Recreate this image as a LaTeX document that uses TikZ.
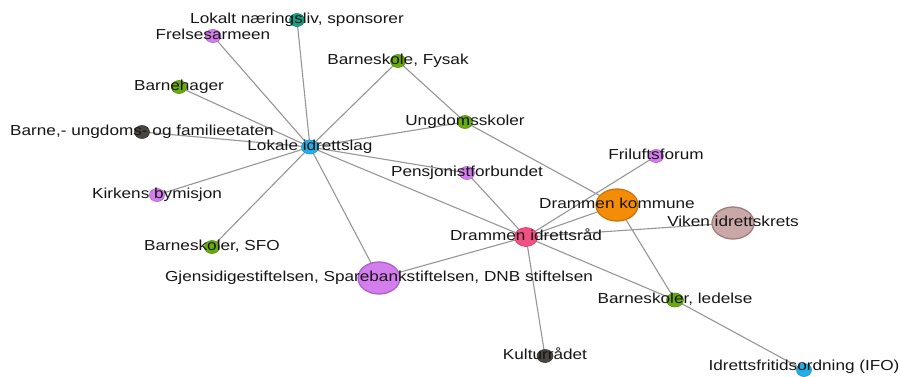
\documentclass[tikz,border=0pt]{standalone}
\usepackage{fontspec}
\usepackage{graphicx}
\setmainfont{Liberation Sans}
\usetikzlibrary{shapes.geometric}
\pgfdeclarelayer{bg}
\pgfsetlayers{bg,main}
\definecolor{cblue}{RGB}{35,175,230}
\definecolor{cblueD}{RGB}{25,150,205}
\definecolor{cteal}{RGB}{25,160,130}
\definecolor{ctealD}{RGB}{15,135,110}
\definecolor{cpurp}{RGB}{212,125,236}
\definecolor{cpurpD}{RGB}{175,95,200}
\definecolor{cgreen}{RGB}{105,170,15}
\definecolor{cgreenD}{RGB}{85,145,10}
\definecolor{cdark}{RGB}{75,70,65}
\definecolor{cdarkD}{RGB}{55,50,45}
\definecolor{corange}{RGB}{245,140,5}
\definecolor{corangeD}{RGB}{205,115,10}
\definecolor{cpink}{RGB}{240,80,130}
\definecolor{cpinkD}{RGB}{210,60,105}
\definecolor{crosy}{RGB}{202,168,168}
\definecolor{crosyD}{RGB}{160,125,125}
\definecolor{edgec}{RGB}{150,150,150}
\definecolor{txt}{RGB}{22,22,22}
\newcommand{\wlab}[1]{\scalebox{1.185}[1]{#1}}
\begin{document}
\begin{tikzpicture}[x=1pt,y=-1pt,
  vtx/.style={ellipse, inner sep=0pt, line width=0.6pt},
  sm/.style={vtx, minimum width=15pt, minimum height=13pt},
  big/.style={vtx, line width=1.3pt, minimum width=42pt, minimum height=32pt},
  lbl/.style={text=txt, font=\fontsize{14.5}{16}\selectfont, inner sep=0pt, text height=10pt, text depth=3.5pt},
  link/.style={draw=edgec, line width=1.1pt},
  blue/.style={fill=cblue, draw=cblueD},
  teal/.style={fill=cteal, draw=ctealD},
  purp/.style={fill=cpurp, draw=cpurpD},
  green/.style={fill=cgreen, draw=cgreenD},
  dark/.style={fill=cdark, draw=cdarkD}]
\useasboundingbox (0,0) rectangle (900,376);

% vertices
\node[sm, blue, minimum width=17pt, minimum height=14pt] (lok) at (310,147) {};
\node[sm, teal] (nae) at (297,20) {};
\node[sm, purp, minimum width=16pt] (fre) at (213,36) {};
\node[sm, green] (fys) at (398,61) {};
\node[sm, green] (bhg) at (179,87) {};
\node[sm, dark] (bufe) at (142,132) {};
\node[sm, green] (ung) at (465,122) {};
\node[sm, purp] (fri) at (656,156) {};
\node[sm, purp] (pen) at (467,173) {};
\node[sm, purp] (kbm) at (157,195) {};
\node[sm, green] (sfo) at (212,247) {};
\node[big, fill=cpurp, draw=cpurpD] (gjen) at (379,278) {};
\node[big, fill=corange, draw=corangeD] (dk) at (617,205) {};
\node[big, fill=crosy, draw=crosyD] (vik) at (733,223) {};
\node[vtx, fill=cpink, draw=cpinkD, minimum width=23pt, minimum height=19pt] (dir) at (526,237) {};
\node[sm, green, minimum width=17pt, minimum height=14pt] (led) at (675,300) {};
\node[sm, dark, minimum width=16pt] (kul) at (545,356) {};
\node[sm, blue] (ifo) at (804,370) {};

% connectors
\begin{pgfonlayer}{bg}
\foreach \a/\b in {lok/nae, lok/fre, lok/fys, lok/bhg, lok/bufe, lok/ung, lok/pen,
  lok/dir, lok/kbm, lok/sfo, lok/gjen, fys/ung, ung/dk, fri/dir, pen/dir, dir/dk,
  dir/vik, dir/gjen, dir/kul, dir/led, dk/led, led/ifo}
  \draw[link] (\a.center) -- (\b.center);
\end{pgfonlayer}

% labels
\node[lbl] (lnae) at (nae) {\wlab{Lokalt næringsliv, sponsorer}};
\node[lbl] (lfre) at (fre) {\wlab{Frelsesarmeen}};
\node[lbl] (lfys) at (fys) {\wlab{Barneskole, Fysak}};
\node[lbl] (lbhg) at (bhg) {\wlab{Barnehager}};
\node[lbl] (lbufe) at (bufe) {\wlab{Barne,- ungdoms- og familieetaten}};
\node[lbl] (lung) at (ung) {\wlab{Ungdomsskoler}};
\node[lbl] (llok) at (lok) {\wlab{Lokale idrettslag}};
\node[lbl] (lfri) at (fri) {\wlab{Friluftsforum}};
\node[lbl] (lpen) at (pen) {\wlab{Pensjonistforbundet}};
\node[lbl] (lkbm) at (kbm) {\wlab{Kirkens bymisjon}};
\node[lbl] (ldk) at (dk) {\wlab{Drammen kommune}};
\node[lbl] (lvik) at (vik) {\wlab{Viken idrettskrets}};
\node[lbl] (ldir) at (dir) {\wlab{Drammen idrettsråd}};
\node[lbl] (lsfo) at (sfo) {\wlab{Barneskoler, SFO}};
\node[lbl] (lgjen) at (gjen) {\wlab{Gjensidigestiftelsen, Sparebankstiftelsen, DNB stiftelsen}};
\node[lbl] (lled) at (led) {\wlab{Barneskoler, ledelse}};
\node[lbl] (lkul) at (kul) {\wlab{Kulturrådet}};
\node[lbl] (lifo) at ([yshift=3pt]ifo) {\wlab{Idrettsfritidsordning (IFO)}};
\end{tikzpicture}
\end{document}
